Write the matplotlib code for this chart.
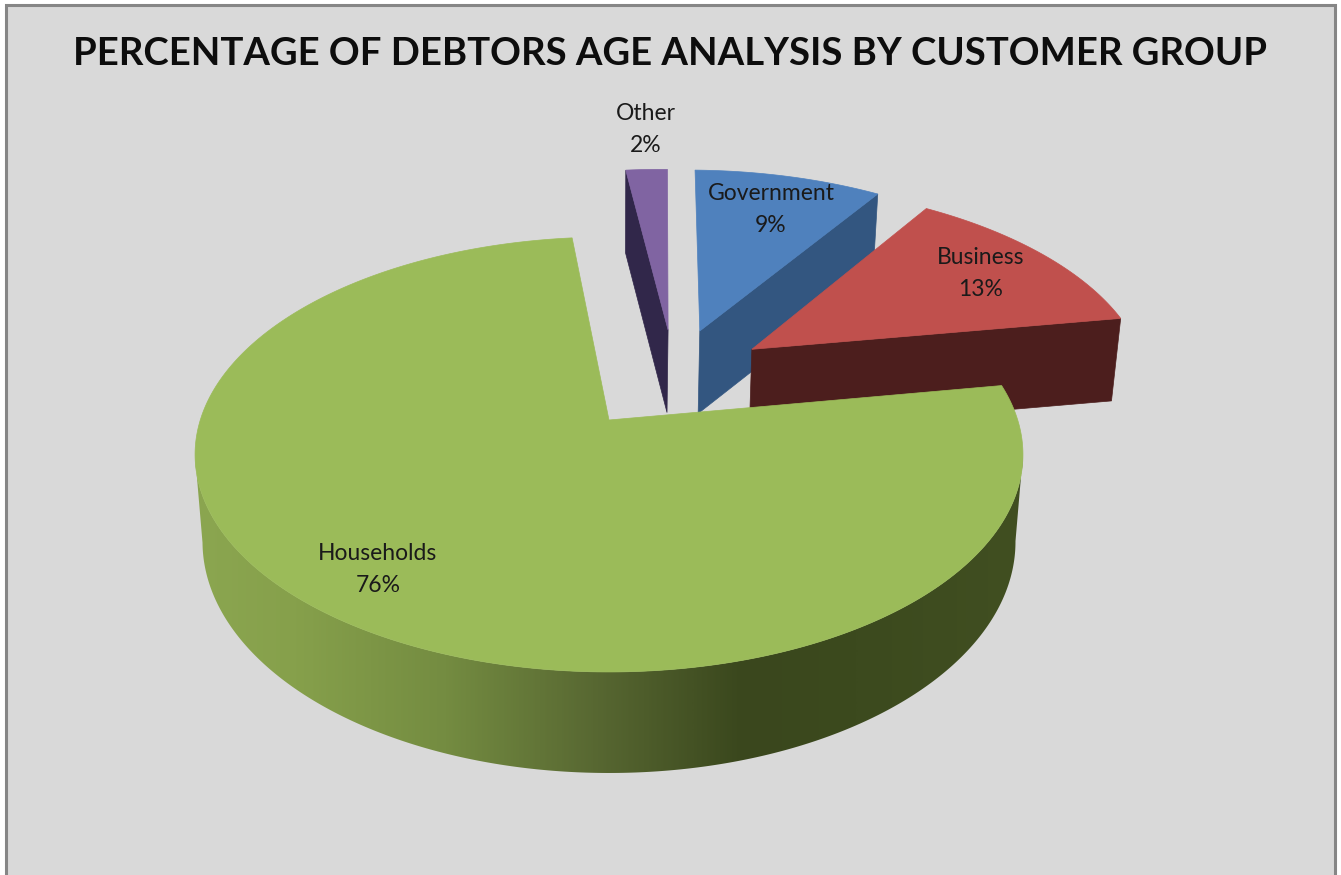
import numpy as np
import matplotlib
matplotlib.use("Agg")
import matplotlib.pyplot as plt
from matplotlib.colors import LinearSegmentedColormap
from matplotlib.patches import Polygon, Rectangle

title = "PERCENTAGE OF DEBTORS AGE ANALYSIS BY CUSTOMER GROUP"
groups = ["Government", "Business", "Households", "Other"]
shares = [9, 13, 76, 2]

# look of each slice
top_colors = ["#4F81BD", "#C0504D", "#9BBB59", "#8064A2"]
side_colors = ["#335680", "#4C1E1D", "#3F4D20", "#31274A"]
pull_x = [0.238, 0.369, 0.0, 0.155]
pull_y = [-0.45, -0.352, 0.0, -0.455]
label_xy = [(771, 194), (981, 258), (378, 554), (646, 113)]

start_angle = 1.2
cx, cy = 609, 420
scale_x, scale_y = 408.7, 212
tilt = 0.1586
depth = 85
shrink = 0.982

plt.rcParams["font.family"] = ["Lato", "DejaVu Sans"]


def project(px, py):
    w = 1 - tilt * py
    return cx + scale_x * px / w, cy + scale_y * py / w


def project_low(px, py):
    # same point on the underside of the disc
    x, y = project(px, py)
    return cx + (x - cx) * shrink, y + depth / np.minimum(1 - tilt * py, 1.03)


def arc(t0, t1, ox, oy):
    t = np.radians(np.linspace(t0, t1, max(int(abs(t1 - t0)) * 2, 8)))
    return ox + np.sin(t), oy - np.cos(t)


fig = plt.figure(figsize=(13.41, 8.75), dpi=100, facecolor="white")
ax = fig.add_axes([0, 0, 1, 1])
ax.set_xlim(0, 1341)
ax.set_ylim(875, 0)
ax.axis("off")

ax.add_patch(Rectangle((6, 5), 1329, 900, fc="#D9D9D9", ec="#868686", lw=2.2, zorder=0))

ends = start_angle + np.cumsum(shares) * 3.6
starts = ends - np.array(shares) * 3.6

# back slices first, households last because it sits in front
for i in [3, 0, 1, 2]:
    t0, t1 = starts[i], ends[i]
    ox, oy = pull_x[i], pull_y[i]
    z = 2 + [3, 0, 1, 2].index(i) * 2
    rx, ry = arc(t0, t1, ox, oy)
    tx, ty = project(rx, ry)
    bx, by = project_low(rx, ry)
    ax0, ay0 = project(ox, oy)
    lx0, ly0 = project_low(ox, oy)

    if groups[i] == "Households":
        # only the front of the rim is seen, from its right end round to its left end
        a, b = np.argmax(tx), np.argmin(tx)
        front = np.r_[np.c_[tx[a:b + 1], ty[a:b + 1]], np.c_[bx[a:b + 1], by[a:b + 1]][::-1]]
        wall = Polygon(front, fc="none", ec="none", zorder=z)
        ax.add_patch(wall)
        shade = LinearSegmentedColormap.from_list(
            "wall",
            [(0, "#8BA650"), (0.12, "#86A04B"), (0.3, "#748C41"), (0.48, "#586832"),
             (0.66, "#3A471D"), (0.8, "#3C4A1E"), (1, "#414F21")],
        )
        img = ax.imshow(np.linspace(0, 1, 400)[None, :], cmap=shade, extent=(195, 1025, 800, 380),
                        aspect="auto", zorder=z, interpolation="bilinear")
        img.set_clip_path(wall)
        ax.set_xlim(0, 1341)
        ax.set_ylim(875, 0)
    else:
        # cut face that looks towards the viewer
        if np.sin(np.radians(t0)) < -0.01:
            ex, ey, fx, fy = tx[0], ty[0], bx[0], by[0]
        else:
            ex, ey, fx, fy = tx[-1], ty[-1], bx[-1], by[-1]
        face = [(ax0, ay0), (ex, ey), (fx, fy), (lx0, ly0)]
        ax.add_patch(Polygon(face, fc=side_colors[i], ec=side_colors[i], lw=0.5, zorder=z))

    top = np.r_[[(ax0, ay0)], np.c_[tx, ty]]
    ax.add_patch(Polygon(top, fc=top_colors[i], ec=top_colors[i], lw=0.5, zorder=z + 1))

for name, share, (x, y) in zip(groups, shares, label_xy):
    ax.text(x, y, name, ha="center", va="center", fontsize=16.5, color="#1A1A1A", zorder=20)
    ax.text(x, y + 32, f"{share}%", ha="center", va="center", fontsize=16.5, color="#1A1A1A", zorder=20)

ax.text(670, 54, title, ha="center", va="center", fontsize=27.5, fontweight="bold",
        family=["Liberation Sans Narrow", "Lato"], color="#0D0D0D", zorder=20)

fig.savefig("out.png", dpi=100, facecolor="white")
